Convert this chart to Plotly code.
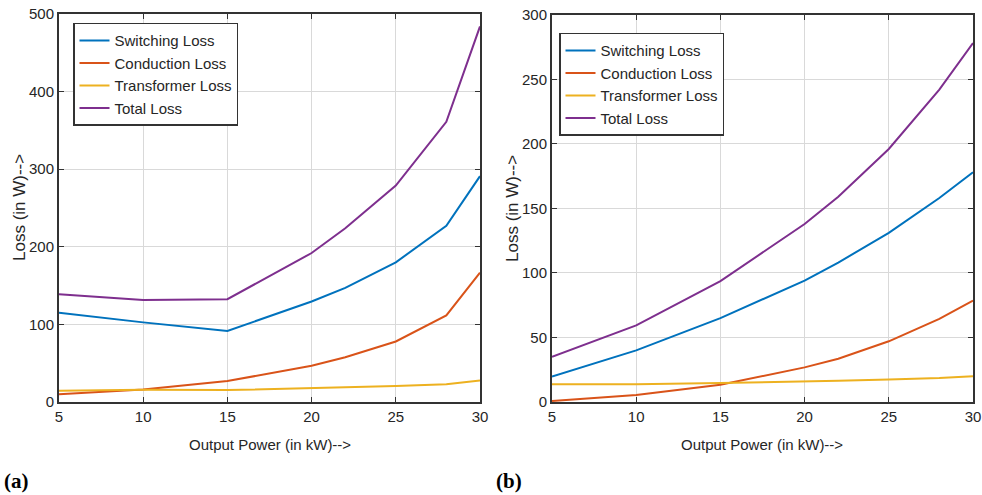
import plotly.graph_objects as go

power = [5, 10, 15, 20, 22, 25, 28, 30]

# (a)
a_switching = [115, 102.6, 91.5, 129.5, 147, 180, 227, 291]
a_conduction = [10, 16, 27, 46.6, 57.7, 78, 111.5, 166.7]
a_transformer = [14.5, 15.8, 15.4, 17.5, 18.5, 20.5, 23, 27.8]
a_total = [139, 131.6, 132.5, 192, 224, 279, 361, 484]

# (b)
b_switching = [19.8, 40, 65, 94, 108, 131, 158, 178]
b_conduction = [0.8, 5.4, 13.4, 26.8, 33.5, 47, 64.4, 78.6]
b_transformer = [13.7, 13.7, 14.7, 15.7, 16.5, 17.5, 18.5, 20]
b_total = [35, 59.3, 93.6, 137.9, 159, 196, 242, 278]

names = ["Switching Loss", "Conduction Loss", "Transformer Loss", "Total Loss"]
colors = ["#0072BD", "#D95319", "#EDB120", "#7E2F8E"]

W, H = 982, 495
def px_x(p): return p / W
def px_y(p): return 1 - p / H

fig = go.Figure()
for series, nm, c in zip([a_switching, a_conduction, a_transformer, a_total], names, colors):
    fig.add_trace(go.Scatter(x=power, y=series, name=nm, mode="lines",
                             line=dict(color=c, width=2), xaxis="x", yaxis="y", legend="legend"))
for series, nm, c in zip([b_switching, b_conduction, b_transformer, b_total], names, colors):
    fig.add_trace(go.Scatter(x=power, y=series, name=nm, mode="lines",
                             line=dict(color=c, width=2), xaxis="x2", yaxis="y2", legend="legend2"))

font = "Liberation Sans, Arial, sans-serif"
axis_common = dict(showgrid=True, gridcolor="#d9d9d9", gridwidth=1, zeroline=False,
                   showline=True, linecolor="#333333", linewidth=2, mirror="ticks",
                   ticks="inside", ticklen=5, tickcolor="#333333", automargin=False,
                   tickfont=dict(family=font, size=15, color="#262626"))

legend_common = dict(xanchor="left", yanchor="top", bgcolor="white", bordercolor="#333333",
                     borderwidth=1.5, font=dict(family=font, size=15, color="#262626"),
                     tracegroupgap=0, itemwidth=30)

def label(text, x, y, size=15, angle=0, fam=font, color="#262626"):
    return dict(text=text, x=px_x(x), y=px_y(y), xref="paper", yref="paper",
                xanchor="center", yanchor="middle", showarrow=False, textangle=angle,
                font=dict(family=fam, size=size, color=color))

fig.update_layout(
    width=W, height=H,
    margin=dict(l=0, r=0, t=0, b=0, autoexpand=False),
    paper_bgcolor="white", plot_bgcolor="white",
    showlegend=True,
    xaxis=dict(domain=[px_x(59), px_x(480)], range=[5, 30], tickvals=[5, 10, 15, 20, 25, 30],
               anchor="y", **axis_common),
    yaxis=dict(domain=[px_y(402), px_y(14)], range=[0, 500], tickvals=[0, 100, 200, 300, 400, 500],
               anchor="x", **axis_common),
    xaxis2=dict(domain=[px_x(552), px_x(973)], range=[5, 30], tickvals=[5, 10, 15, 20, 25, 30],
                anchor="y2", **axis_common),
    yaxis2=dict(domain=[px_y(402), px_y(14.7)], range=[0, 300], tickvals=[0, 50, 100, 150, 200, 250, 300],
                anchor="x2", **axis_common),
    legend=dict(x=px_x(73), y=px_y(22.7), **legend_common),
    legend2=dict(x=px_x(559), y=px_y(32.7), **legend_common),
    annotations=[
        label("Output Power (in kW)-->", 270, 444),
        label("Output Power (in kW)-->", 762, 444),
        label("Loss (in W)-->", 19, 208, size=17, angle=-90),
        label("Loss (in W)-->", 512, 208, size=17, angle=-90),
        dict(text="<b>(a)</b>", x=px_x(2), y=px_y(481), xref="paper", yref="paper",
             xanchor="left", yanchor="middle", showarrow=False,
             font=dict(family="Liberation Serif, serif", size=21, color="black")),
        dict(text="<b>(b)</b>", x=px_x(494), y=px_y(481), xref="paper", yref="paper",
             xanchor="left", yanchor="middle", showarrow=False,
             font=dict(family="Liberation Serif, serif", size=21, color="black")),
    ],
)

fig.write_html("out.html", config={"displayModeBar": False},
               post_script="document.body.style.margin='0';document.body.style.overflow='hidden';")
